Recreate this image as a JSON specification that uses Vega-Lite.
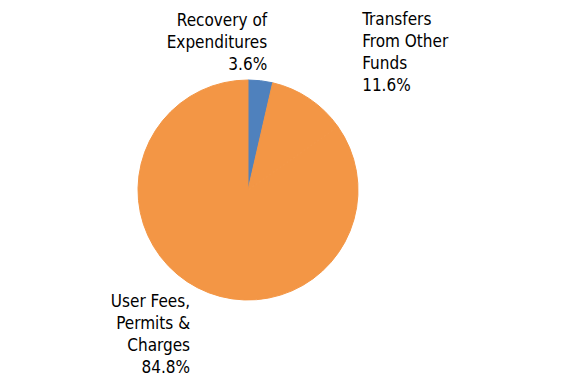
{
  "$schema": "https://vega.github.io/schema/vega-lite/v6.json",
  "autosize": "none",
  "width": 496,
  "height": 380,
  "padding": {"left": 0, "top": 0, "right": 83, "bottom": 1},
  "background": "white",
  "view": {"stroke": null},
  "config": {"text": {"font": "Liberation Sans Narrow, DejaVu Sans Condensed, Liberation Sans, sans-serif", "fontSize": 17, "lineHeight": 22, "lineBreak": "\n", "color": "#000000"}},
  "data": {
    "values": [
      {"category": "Recovery of Expenditures", "value": 3.6, "label": "Recovery of\nExpenditures\n3.6%"},
      {"category": "Transfers From Other Funds", "value": 11.6, "label": "Transfers\nFrom Other\nFunds\n11.6%"},
      {"category": "User Fees, Permits & Charges", "value": 84.8, "label": "User Fees,\nPermits &\nCharges\n84.8%"}
    ]
  },
  "encoding": {
    "theta": {"field": "value", "type": "quantitative", "stack": true}
  },
  "layer": [
    {
      "mark": {"type": "arc", "outerRadius": 110, "strokeWidth": 1},
      "encoding": {
        "color": {
          "field": "category",
          "type": "nominal",
          "scale": {
            "domain": ["Recovery of Expenditures", "Transfers From Other Funds", "User Fees, Permits & Charges"],
            "range": ["#4F81BD", "#F39645", "#F39645"]
          },
          "legend": null
        },
        "stroke": {
          "field": "category",
          "type": "nominal",
          "scale": {
            "domain": ["Recovery of Expenditures", "Transfers From Other Funds", "User Fees, Permits & Charges"],
            "range": ["#4F81BD", "#F39645", "#F39645"]
          },
          "legend": null
        }
      }
    },
    {
      "mark": {"type": "text", "radius": 170, "align": "right", "baseline": "middle"},
      "encoding": {
        "detail": {"field": "category", "type": "nominal"},
        "text": {"condition": {"test": "datum.category === 'Recovery of Expenditures'", "field": "label", "type": "nominal"}, "value": ""}
      }
    },
    {
      "mark": {"type": "text", "radius": 205, "align": "left", "baseline": "middle"},
      "encoding": {
        "detail": {"field": "category", "type": "nominal"},
        "text": {"condition": {"test": "datum.category === 'Transfers From Other Funds'", "field": "label", "type": "nominal"}, "value": ""}
      }
    },
    {
      "mark": {"type": "text", "radius": 126, "align": "right", "baseline": "middle"},
      "encoding": {
        "detail": {"field": "category", "type": "nominal"},
        "text": {"condition": {"test": "datum.category === 'User Fees, Permits & Charges'", "field": "label", "type": "nominal"}, "value": ""}
      }
    }
  ]
}
